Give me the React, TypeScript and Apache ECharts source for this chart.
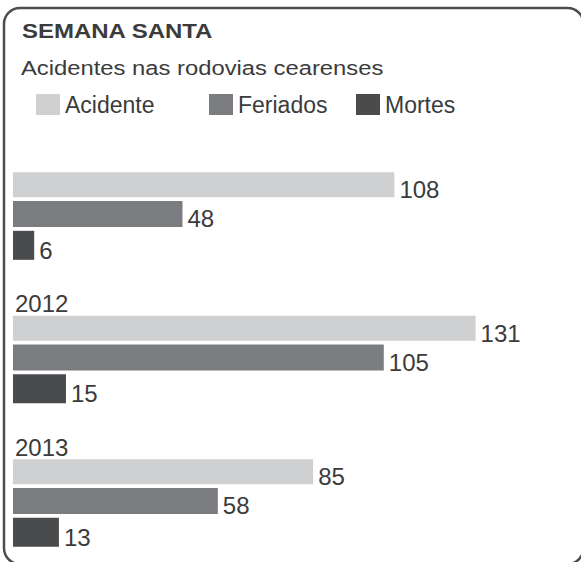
import React, { useEffect, useRef } from "react";
import * as echarts from "echarts";

const categories = ["", "2012", "2013"];
const seriesNames = ["Acidente", "Feriados", "Mortes"];
const acidente = [108, 131, 85];
const feriados = [48, 105, 58];
const mortes = [6, 15, 13];
const titleText = "SEMANA SANTA";
const subtitleText = "Acidentes nas rodovias cearenses";

const FONT = "'Liberation Sans', Arial, Helvetica, sans-serif";
const TEXT = "#3b3b3b";
const COLORS = ["#cfd0d2", "#7b7c80", "#4a4b4d"];

export default function App() {
  const ref = useRef<HTMLDivElement>(null);
  useEffect(() => {
    if (!ref.current) return;
    const chart = echarts.init(ref.current, null, { renderer: "svg" });
    const label = {
      show: true,
      position: "right",
      distance: 5,
      offset: [0, 5],
      fontSize: 24,
      color: TEXT,
      fontFamily: FONT,
    };
    const legendBase = {
      itemWidth: 24,
      itemHeight: 21,
      itemGap: 8,
      icon: "rect",
      padding: 0,
      selectedMode: false,
      textStyle: { fontSize: 23, color: TEXT, fontFamily: FONT },
      top: 93,
    };
    const values = [acidente, feriados, mortes];
    const widths = [25, 26, 29];
    chart.setOption({
      animation: false,
      textStyle: { fontFamily: FONT },
      legend: [
        { ...legendBase, data: [seriesNames[0]], left: 36 },
        { ...legendBase, data: [seriesNames[1]], left: 209 },
        { ...legendBase, data: [seriesNames[2]], left: 356 },
      ],
      grid: { left: 13, top: 216, width: 565, height: 287, containLabel: false },
      xAxis: {
        type: "value",
        min: 0,
        max: 160,
        show: false,
        splitLine: { show: false },
      },
      yAxis: {
        type: "category",
        data: categories,
        inverse: true,
        boundaryGap: false,
        axisLine: { show: false },
        axisTick: { show: false },
        splitLine: { show: false },
        axisLabel: {
          inside: true,
          align: "left",
          verticalAlign: "bottom",
          margin: 2,
          fontSize: 24,
          lineHeight: 24,
          padding: [0, 0, 44, 0],
          color: TEXT,
          fontFamily: FONT,
        },
      },
      graphic: [
        {
          type: "text",
          left: 22,
          top: 21,
          scaleX: 1.17,
          style: {
            text: titleText,
            fontSize: 20.5,
            fontWeight: "bold",
            fill: TEXT,
            fontFamily: FONT,
          },
        },
        {
          type: "text",
          left: 21,
          top: 58,
          scaleX: 1.19,
          style: {
            text: subtitleText,
            fontSize: 20,
            fill: TEXT,
            fontFamily: FONT,
          },
        },
        {
          type: "rect",
          shape: { x: 4, y: 8, width: 579.5, height: 556, r: 16 },
          style: { fill: "none", stroke: "#4d4d4d", lineWidth: 2.5 },
          silent: true,
          z: 10,
        },
      ],
      series: seriesNames.map((name, i) => ({
        name,
        type: "bar",
        data: values[i],
        barWidth: widths[i],
        barGap: "15%",
        clip: false,
        itemStyle: { color: COLORS[i] },
        label,
      })),
    });
    return () => chart.dispose();
  }, []);
  return (
    <div
      ref={ref}
      style={{ position: "fixed", left: 0, top: 0, width: 581, height: 562, background: "#fff" }}
    />
  );
}
